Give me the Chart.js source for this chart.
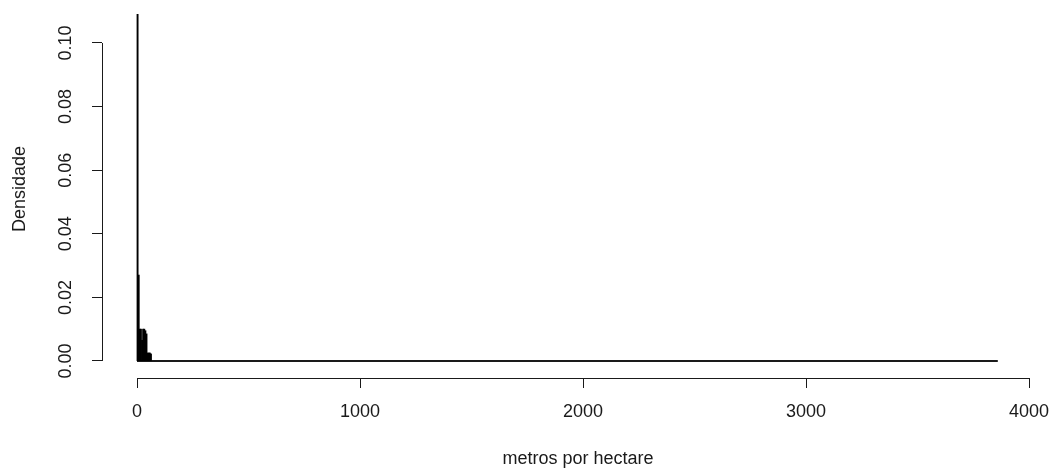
<!DOCTYPE html>
<html>
<head>
<meta charset="utf-8">
<script src="https://cdn.jsdelivr.net/npm/chart.js@4.4.1/dist/chart.umd.min.js"></script>
<style>
  html, body { margin: 0; padding: 0; background: #fff; }
  #wrap { width: 1054px; height: 473px; }
</style>
</head>
<body>
<div id="wrap"><canvas id="histChart"></canvas></div>
<script>
// Histograma de densidade (metros por hectare), estilo R base
const breaks = [0, 5, 10, 15, 20, 25, 30, 35, 40, 45, 50, 55, 60, 65];
const densidade = [0.109, 0.027, 0.010, 0.010, 0.0065, 0.010, 0.010, 0.0095, 0.0085, 0.0025, 0.0025, 0.0025, 0.0022];
const lastBreak = 3860;   // bins vazios seguem até aqui
const xTicks = [0, 1000, 2000, 3000, 4000];
const yTicks = [0, 0.02, 0.04, 0.06, 0.08, 0.10];

const FONT = '"Liberation Sans", Arial, Helvetica, sans-serif';
const INK = '#1a1a1a';
const SIZE = 18;

const barData = densidade.map((d, i) => ({ x: (breaks[i] + breaks[i + 1]) / 2, y: d }));
const baseData = [{ x: breaks[0], y: 0 }, { x: lastBreak, y: 0 }];

// R-style axis lines: only from first to last tick
const axisLines = {
    id: 'axisLines',
    afterDraw(chart) {
        const { ctx, chartArea, scales: { x, y } } = chart;
        ctx.save();
        ctx.strokeStyle = INK;
        ctx.lineWidth = 1;
        ctx.beginPath();
        const by = Math.round(chartArea.bottom) + 0.5;
        ctx.moveTo(x.getPixelForValue(xTicks[0]), by);
        ctx.lineTo(x.getPixelForValue(xTicks[xTicks.length - 1]), by);
        const lx = Math.round(chartArea.left) + 0.5;
        ctx.moveTo(lx, y.getPixelForValue(yTicks[0]));
        ctx.lineTo(lx, y.getPixelForValue(yTicks[yTicks.length - 1]));
        ctx.stroke();
        ctx.restore();
    }
};

new Chart(document.getElementById('histChart'), {
    type: 'bar',
    data: {
        datasets: [
            {
                type: 'line',
                data: baseData,
                borderColor: INK,
                borderWidth: 2,
                pointRadius: 0,
                order: 2
            },
            {
                data: barData,
                backgroundColor: '#000',
                borderWidth: 0,
                barPercentage: 1,
                categoryPercentage: 1,
                inflateAmount: 0.4,
                order: 1
            }
        ]
    },
    options: {
        responsive: true,
        maintainAspectRatio: false,
        animation: false,
        layout: { padding: 0 },
        plugins: {
            legend: { display: false },
            tooltip: { enabled: false }
        },
        scales: {
            x: {
                type: 'linear',
                min: -157,
                max: 4112,
                offset: false,
                afterBuildTicks: s => { s.ticks = xTicks.map(v => ({ value: v })); },
                afterFit: s => { s.height = 95; s.paddingLeft = 0; s.paddingRight = 0; },
                border: { display: false },
                grid: {
                    offset: false,
                    drawOnChartArea: false,
                    drawTicks: true,
                    tickLength: 10,
                    color: INK
                },
                ticks: {
                    padding: 13,
                    maxRotation: 0,
                    color: INK,
                    font: { family: FONT, size: SIZE },
                    callback: v => String(v)
                },
                title: {
                    display: true,
                    text: 'metros por hectare',
                    color: INK,
                    font: { family: FONT, size: SIZE },
                    padding: { top: 0, bottom: 3 }
                }
            },
            y: {
                type: 'linear',
                min: -0.00535,
                max: 0.11352,
                afterBuildTicks: s => { s.ticks = yTicks.map(v => ({ value: v })); },
                afterFit: s => { s.width = 102; s.paddingTop = 0; s.paddingBottom = 0; },
                border: { display: false },
                grid: {
                    drawOnChartArea: false,
                    drawTicks: true,
                    tickLength: 10,
                    color: INK
                },
                ticks: {
                    minRotation: 90,
                    maxRotation: 90,
                    crossAlign: 'center',
                    padding: 8,
                    color: INK,
                    font: { family: FONT, size: SIZE },
                    callback: v => v.toFixed(2)
                },
                title: {
                    display: true,
                    text: 'Densidade',
                    color: INK,
                    font: { family: FONT, size: SIZE },
                    padding: { top: 9, bottom: 0 }
                }
            }
        }
    },
    plugins: [axisLines]
});
</script>
</body>
</html>
